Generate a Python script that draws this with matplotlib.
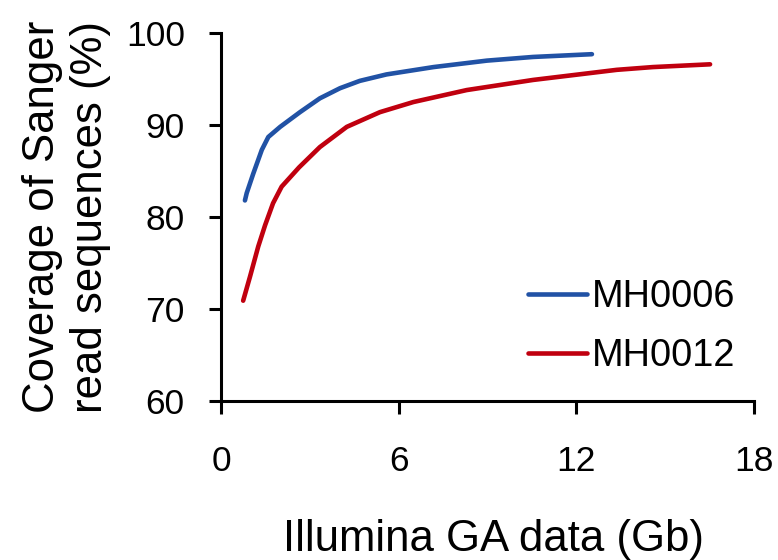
import numpy as np
import matplotlib.pyplot as plt

plt.rcParams['font.family'] = ['Liberation Sans', 'DejaVu Sans']

# coverage curves (Gb of Illumina data vs % of Sanger reads covered)
mh0006_gb = [0.81, 0.87, 1.09, 1.38, 1.6, 2.0, 2.67, 3.34, 4.02, 4.69, 5.59, 7.18, 8.98, 10.54, 12.53]
mh0006_cov = [81.8, 82.6, 84.7, 87.3, 88.7, 89.8, 91.4, 92.9, 94.0, 94.8, 95.5, 96.3, 97.0, 97.4, 97.7]

mh0012_gb = [0.75, 0.98, 1.26, 1.49, 1.76, 2.05, 2.64, 3.34, 4.25, 5.37, 6.5, 8.3, 10.54, 13.37, 14.59, 16.52]
mh0012_cov = [70.9, 73.5, 76.8, 79.1, 81.5, 83.3, 85.4, 87.6, 89.8, 91.4, 92.5, 93.8, 94.9, 96.0, 96.3, 96.6]

x_ticks = [0, 6, 12, 18]
y_ticks = [60, 70, 80, 90, 100]

fig = plt.figure(figsize=(7.78, 5.6), dpi=100)
ax = fig.add_axes([0.284, 0.284, 0.685, 0.657])

ax.plot(mh0006_gb, mh0006_cov, color='#2152A5', lw=3.3, solid_capstyle='round', label='MH0006')
ax.plot(mh0012_gb, mh0012_cov, color='#C0000F', lw=3.3, solid_capstyle='round', label='MH0012')

ax.set_xlim(0, 18)
ax.set_ylim(60, 100)
ax.set_xticks(x_ticks)
ax.set_yticks(y_ticks)

for s in ['top', 'right']:
    ax.spines[s].set_visible(False)
for s in ['left', 'bottom']:
    ax.spines[s].set_linewidth(2.2)
ax.tick_params(direction='out', length=9, width=2.2, labelsize=25.5)
ax.tick_params(axis='x', pad=23)
ax.tick_params(axis='y', pad=17)

ax.set_xlabel('Illumina GA data (Gb)', fontsize=31.5, labelpad=29)
ax.xaxis.label.set_x(0.512)
ax.set_ylabel('Coverage of Sanger\nread sequences (%)', fontsize=31.5, labelpad=11, linespacing=1.2)

ax.legend(loc='center left', bbox_to_anchor=(0.6787, 0.417), bbox_transform=fig.transFigure,
          frameon=False, fontsize=27.3, borderpad=0, borderaxespad=0,
          handlelength=1.55, handletextpad=0.14, labelspacing=0.6)

plt.savefig('out.png', dpi=100)
